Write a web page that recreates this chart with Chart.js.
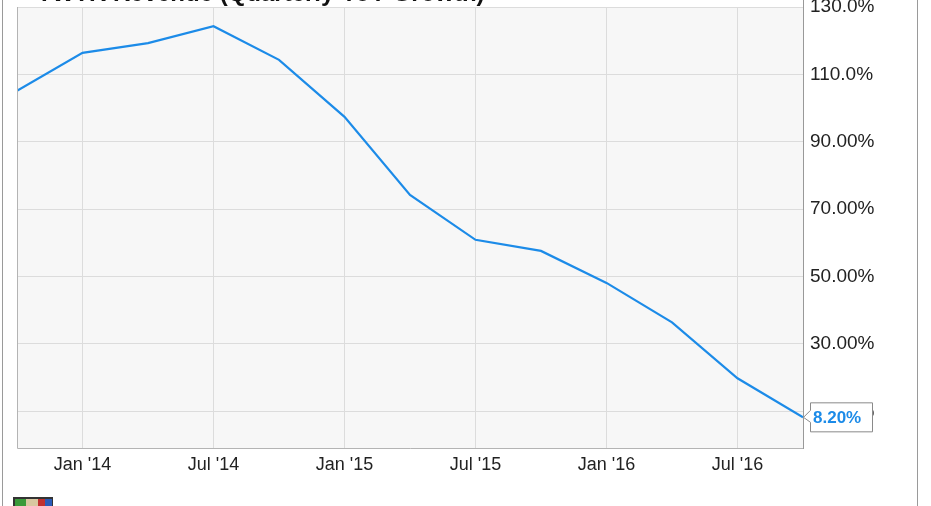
<!DOCTYPE html>
<html>
<head>
<meta charset="utf-8">
<script src="https://cdn.jsdelivr.net/npm/chart.js@4.4.1/dist/chart.umd.min.js"></script>
<style>
  html, body { margin: 0; padding: 0; background: #fff; }
  #wrap { width: 931px; height: 506px; }
</style>
</head>
<body>
<div id="wrap"><canvas id="myChart" width="931" height="506"></canvas></div>
<script>
// quarterly YoY revenue growth, TWTR
var quarters = ['2013-10', '2014-01', '2014-04', '2014-07', '2014-10', '2015-01', '2015-04',
                '2015-07', '2015-10', '2016-01', '2016-04', '2016-07', '2016-10'];
var growth = [105.1, 116.4, 119.3, 124.3, 114.3, 97.4, 74.2, 60.9, 57.6, 48.1, 36.4, 19.8, 8.2];

var xTickDates = ['2014-01', '2014-07', '2015-01', '2015-07', '2016-01', '2016-07'];
var xTickLabels = ["Jan '14", "Jul '14", "Jan '15", "Jul '15", "Jan '16", "Jul '16"];
var yTickValues = [10, 30, 50, 70, 90, 110, 130];
var yTickLabels = ['10.00%', '30.00%', '50.00%', '70.00%', '90.00%', '110.0%', '130.0%'];

var chartTitle = 'TWTR Revenue (Quarterly YoY Growth)';
var lastLabel = '8.20%';

// months since Jan 2014
function toMonths(s) {
    var p = s.split('-');
    return (parseInt(p[0]) - 2014) * 12 + (parseInt(p[1]) - 1);
}

var points = [];
for (var i = 0; i < quarters.length; i++) {
    points.push({ x: toMonths(quarters[i]), y: growth[i] });
}

var lineColor = '#1c8be8';

var framePlugin = {
    id: 'frame',
    beforeDraw: function (chart) {
        var ctx = chart.ctx, a = chart.chartArea;
        ctx.save();
        ctx.fillStyle = '#f7f7f7';
        ctx.fillRect(a.left, a.top, a.right - a.left, a.bottom - a.top);
        ctx.restore();
    },
    afterDraw: function (chart) {
        var ctx = chart.ctx, a = chart.chartArea;
        ctx.save();
        // plot border
        ctx.strokeStyle = '#b4b4b4';
        ctx.lineWidth = 1;
        ctx.beginPath();
        ctx.moveTo(a.left + 0.5, a.top);
        ctx.lineTo(a.left + 0.5, a.bottom + 0.5);
        ctx.lineTo(a.right, a.bottom + 0.5);
        ctx.stroke();
        ctx.strokeStyle = '#999';
        ctx.beginPath();
        ctx.moveTo(a.right + 0.5, a.top - 7);
        ctx.lineTo(a.right + 0.5, a.bottom + 1);
        ctx.stroke();
        // outer frame
        ctx.strokeStyle = '#9a9a9a';
        ctx.beginPath();
        ctx.moveTo(2.5, 0); ctx.lineTo(2.5, 506);
        ctx.moveTo(917.5, 0); ctx.lineTo(917.5, 506);
        ctx.stroke();

        // title box (cut off at top)
        ctx.fillStyle = '#fff';
        ctx.fillRect(a.left, 0, 488, 6);
        ctx.fillStyle = '#111';
        ctx.font = 'bold 24px "Liberation Sans", Arial, sans-serif';
        ctx.textBaseline = 'alphabetic';
        ctx.textAlign = 'left';
        ctx.fillText(chartTitle, 37, 1);

        // last value badge
        var meta = chart.getDatasetMeta(0);
        var pt = meta.data[meta.data.length - 1];
        var px = pt.x, py = pt.y;
        var bx = 810, bw = 62, bh = 29, by = py - 15;
        ctx.fillStyle = '#fff';
        ctx.strokeStyle = '#8a8a8a';
        ctx.beginPath();
        ctx.moveTo(px + 0.5, py);
        ctx.lineTo(bx + 0.5, by + 8);
        ctx.lineTo(bx + 0.5, by + 0.5);
        ctx.lineTo(bx + bw + 0.5, by + 0.5);
        ctx.lineTo(bx + bw + 0.5, by + bh + 0.5);
        ctx.lineTo(bx + 0.5, by + bh + 0.5);
        ctx.lineTo(bx + 0.5, by + 20);
        ctx.closePath();
        ctx.fill();
        ctx.stroke();
        ctx.fillStyle = lineColor;
        ctx.font = 'bold 17px "Liberation Sans", Arial, sans-serif';
        ctx.textBaseline = 'middle';
        ctx.fillText(lastLabel, bx + 3, by + bh / 2 + 1);

        // small logo at bottom left
        ctx.fillStyle = '#333';
        ctx.fillRect(13, 497, 40, 9);
        ctx.fillStyle = '#3a9a3a';
        ctx.fillRect(15, 499, 11, 7);
        ctx.fillStyle = '#d8c8a0';
        ctx.fillRect(26, 499, 12, 7);
        ctx.fillStyle = '#c03030';
        ctx.fillRect(38, 499, 7, 7);
        ctx.fillStyle = '#2a5ab8';
        ctx.fillRect(45, 499, 7, 7);
        ctx.restore();
    }
};

var ctx = document.getElementById('myChart').getContext('2d');
var myChart = new Chart(ctx, {
    type: 'line',
    data: {
        datasets: [{
            data: points,
            borderColor: lineColor,
            borderWidth: 2.2,
            pointRadius: 0,
            tension: 0,
            fill: false
        }]
    },
    options: {
        responsive: false,
        animation: false,
        layout: { padding: { left: 17, top: 7, right: 0, bottom: 0 } },
        plugins: {
            legend: { display: false },
            tooltip: { enabled: false }
        },
        scales: {
            x: {
                type: 'linear',
                min: toMonths(quarters[0]),
                max: toMonths(quarters[quarters.length - 1]),
                afterBuildTicks: function (axis) {
                    axis.ticks = xTickDates.map(function (d) { return { value: toMonths(d) }; });
                },
                afterFit: function (axis) {
                    axis.height = 58;
                    axis.paddingLeft = 0;
                    axis.paddingRight = 0;
                },
                grid: { color: '#dcdcdc', drawTicks: false },
                border: { display: false },
                ticks: {
                    padding: 6,
                    maxRotation: 0,
                    autoSkip: false,
                    color: '#222',
                    font: { family: '"Liberation Sans", Arial, sans-serif', size: 18 },
                    callback: function (v) {
                        for (var i = 0; i < xTickDates.length; i++) {
                            if (toMonths(xTickDates[i]) === v) return xTickLabels[i];
                        }
                        return '';
                    }
                }
            },
            y: {
                position: 'right',
                min: -0.9,
                max: 130,
                afterBuildTicks: function (axis) {
                    axis.ticks = yTickValues.map(function (v) { return { value: v }; });
                },
                afterFit: function (axis) {
                    axis.width = 128;
                    axis.paddingTop = 0;
                    axis.paddingBottom = 0;
                },
                grid: { color: '#dcdcdc', drawTicks: false },
                border: { display: false },
                ticks: {
                    padding: 7,
                    autoSkip: false,
                    color: '#222',
                    font: { family: '"Liberation Sans", Arial, sans-serif', size: 19 },
                    callback: function (v) {
                        var k = yTickValues.indexOf(v);
                        return k >= 0 ? yTickLabels[k] : '';
                    }
                }
            }
        }
    },
    plugins: [framePlugin]
});
</script>
</body>
</html>
